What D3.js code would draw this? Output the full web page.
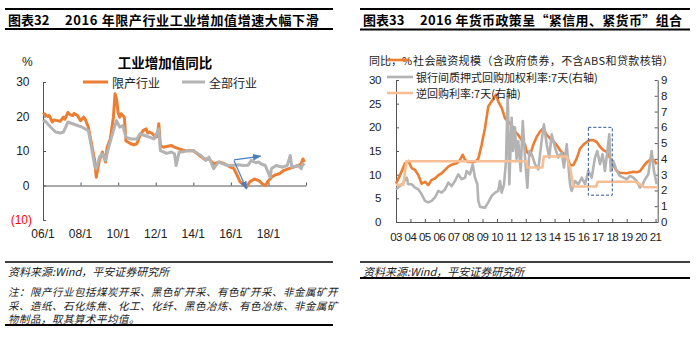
<!DOCTYPE html>
<html><head><meta charset="utf-8">
<script src="https://cdn.jsdelivr.net/npm/d3@7"></script>
<style>
body{margin:0;background:#fff;}
svg{display:block;}
</style></head><body>
<svg id="c" width="700" height="337"></svg>
<script>
// ---------- Chart 1 data (工业增加值同比, %) ----------
const ltdDates = ["2006-01","2006-02","2006-04","2006-05","2006-07","2006-08","2006-10","2006-12","2007-02","2007-03","2007-05","2007-06","2007-08","2007-09","2007-11","2008-01","2008-03","2008-04","2008-06","2008-08","2008-10","2008-11","2009-01","2009-03","2009-05","2009-06","2009-08","2009-10","2009-11","2009-12","2010-01","2010-02","2010-03","2010-05","2010-06","2010-08","2010-09","2010-11","2011-01","2011-03","2011-05","2011-07","2011-08","2011-09","2011-11","2012-01","2012-02","2012-03","2012-04","2012-06","2012-08","2012-11","2013-01","2013-04","2013-08","2014-01","2014-05","2014-08","2014-11","2015-02","2015-06","2015-09","2015-12","2016-03","2016-05","2016-07","2016-10","2016-11","2017-01","2017-04","2017-07","2017-09","2017-11","2018-01","2018-03","2018-05","2018-08","2018-11","2019-02","2019-05","2019-08","2019-10","2019-11","2019-12"];
const ltdValues = [20.5,20.8,20.0,20.3,18.4,19.0,18.8,18.6,19.8,19.2,21.2,20.6,20.3,20.9,20.3,18.8,19.8,19.2,16.9,12.1,7.3,2.4,7.3,9.7,6.8,11.1,13.5,19.8,26.6,25.1,21.0,19.8,20.8,19.8,13.0,12.4,12.1,11.8,12.1,14.5,15.9,16.4,15.2,15.5,15.0,14.0,14.3,17.9,11.6,11.1,11.3,11.6,11.1,10.6,10.1,10.1,8.7,7.7,7.7,6.3,6.8,6.3,5.5,4.9,3.0,1.0,0.0,-0.5,1.0,1.9,1.4,0.5,0.0,1.4,2.4,3.0,3.4,4.4,4.9,5.3,5.8,6.3,7.7,6.8];
const allDates = ["2006-01","2006-02","2006-04","2006-06","2006-09","2006-12","2007-02","2007-05","2007-08","2007-11","2008-02","2008-06","2008-08","2008-10","2008-11","2009-01","2009-03","2009-05","2009-07","2009-10","2009-12","2010-02","2010-04","2010-06","2010-09","2011-01","2011-03","2011-06","2011-09","2011-12","2012-03","2012-04","2012-08","2012-11","2013-01","2013-02","2013-04","2013-06","2013-09","2014-01","2014-04","2014-06","2014-09","2014-11","2015-02","2015-05","2015-08","2015-11","2016-03","2016-06","2016-09","2016-12","2017-02","2017-05","2017-07","2017-08","2017-11","2018-02","2018-03","2018-06","2018-10","2019-01","2019-03","2019-04","2019-08","2019-10","2019-11","2019-12"];
const allValues = [18.5,18.8,17.9,16.9,15.5,15.2,15.5,18.4,17.9,17.4,16.9,15.9,11.1,5.8,4.8,8.2,9.2,7.3,11.1,15.9,18.8,16.9,17.4,14.0,13.5,13.5,15.0,14.5,14.0,13.5,16.4,10.1,9.3,9.7,9.2,5.8,9.7,9.7,10.1,10.1,9.2,8.7,7.3,8.2,4.9,6.8,6.3,5.8,5.9,6.0,5.8,5.9,7.3,6.6,6.8,6.3,5.8,2.4,4.9,5.8,5.3,5.8,8.7,5.3,5.8,4.9,6.3,5.8];
const c1TickDates = ["2006-01","2008-01","2010-01","2012-01","2014-01","2016-01","2018-01","2020-01"];
const c1TickLabels = ["06/1","08/1","10/1","12/1","14/1","16/1","18/1",""];
const c1YTicks = [30,20,10,0,-10];
const c1YLabels = ["30","20","10","0","(10)"];
// annotation arrows [date, value]
const arrowFrom = [["2016-03",7.45],["2016-03",7.25]];
const arrowTo = [["2017-08",8.5],["2016-11",-1.0]];

// ---------- Chart 2 data ----------
const sfYears = [2003.00,2003.28,2003.62,2003.85,2004.09,2004.32,2004.55,2004.78,2005.01,2005.24,2005.47,2005.70,2005.94,2006.17,2006.40,2006.63,2006.86,2007.21,2007.44,2007.62,2007.79,2008.01,2008.25,2008.48,2008.71,2008.94,2009.17,2009.40,2009.64,2009.80,2009.93,2010.09,2010.33,2010.56,2010.79,2011.02,2011.25,2011.48,2011.72,2011.95,2012.06,2012.29,2012.52,2012.76,2012.99,2013.22,2013.45,2013.68,2013.91,2014.14,2014.37,2014.60,2014.84,2015.07,2015.30,2015.53,2015.76,2015.99,2016.23,2016.45,2016.68,2016.92,2017.15,2017.38,2017.61,2017.85,2018.07,2018.31,2018.53,2019.00,2019.46,2019.69,2019.92,2020.20,2020.39,2020.60,2020.73,2020.96,2021.08];
const sfValues = [8.1,9.9,12.4,12.9,11.4,11.0,9.9,8.1,8.5,7.8,8.9,9.2,9.9,10.3,11.0,11.7,12.1,12.4,13.1,14.2,13.1,12.7,12.7,12.7,13.4,16.3,19.8,24.4,25.5,26.2,26.9,25.5,24.1,21.9,21.2,20.5,19.1,18.4,17.3,16.3,14.9,14.1,16.3,18.0,19.1,19.8,18.4,17.7,17.0,16.3,15.2,14.5,14.1,12.0,12.0,13.4,15.5,16.3,16.9,17.3,17.3,16.9,15.9,15.2,14.8,13.5,12.0,10.8,10.4,10.3,10.6,10.5,10.7,11.9,12.6,13.1,13.5,12.8,12.2];
const repoYears = [2003.00,2003.28,2003.51,2003.74,2003.85,2004.09,2004.32,2004.55,2004.78,2005.01,2005.24,2005.47,2005.70,2005.94,2006.17,2006.40,2006.63,2006.86,2007.09,2007.32,2007.56,2007.79,2007.90,2008.13,2008.32,2008.48,2008.64,2008.71,2008.83,2009.17,2009.40,2009.64,2009.87,2010.09,2010.21,2010.33,2010.49,2010.63,2010.75,2010.86,2011.02,2011.12,2011.25,2011.36,2011.48,2011.65,2011.79,2011.95,2012.11,2012.25,2012.41,2012.64,2012.87,2013.10,2013.26,2013.45,2013.63,2013.80,2014.03,2014.26,2014.49,2014.65,2014.84,2014.95,2015.07,2015.18,2015.41,2015.64,2015.88,2016.11,2016.34,2016.57,2016.80,2016.96,2017.15,2017.33,2017.49,2017.66,2017.79,2017.89,2018.07,2018.31,2018.53,2018.77,2019.00,2019.23,2019.46,2019.69,2019.92,2020.11,2020.27,2020.50,2020.73,2020.89,2021.08];
const repoValues = [2.07,2.28,2.50,2.81,2.39,2.39,2.18,2.07,1.76,1.34,1.24,1.34,1.55,1.97,1.86,2.07,2.50,2.28,2.60,3.02,2.71,2.81,3.23,3.02,3.65,2.81,2.39,1.34,0.96,0.90,1.24,1.66,1.86,1.97,2.60,1.86,2.39,3.86,8.2,2.39,6.6,4.5,6.0,4.0,5.13,3.23,6.40,4.08,2.18,4.50,4.30,3.66,3.34,5.14,6.19,4.93,4.08,5.56,4.71,4.08,4.40,3.45,4.93,3.66,2.39,1.97,2.60,2.39,2.81,2.39,3.23,2.81,4.08,4.50,3.66,4.30,3.23,4.50,5.56,3.23,3.87,3.23,2.92,2.81,2.71,2.92,2.81,2.60,2.18,2.39,2.71,3.02,4.50,3.23,2.39];
const rrYears = [2003.00,2003.50,2003.72,2012.04,2012.10,2013.15,2013.25,2014.85,2014.95,2015.10,2015.20,2015.30,2016.88,2016.98,2019.60,2019.90,2020.25,2021.15];
const rrValues = [2.35,2.35,3.85,3.85,3.45,3.45,4.15,4.15,3.75,3.35,2.75,2.25,2.25,2.55,2.55,2.4,2.2,2.2];
const c2XTicks = d3.range(2003, 2022);
const c2XLabels = ["03","04","05","06","07","08","09","10","11","12","13","14","15","16","17","18","19","20","21"];
const c2LeftTicks = [0,5,10,15,20,25,30];
const c2RightTicks = [0,1,2,3,4,5,6,7,8,9];
// dashed highlight box: [startYear, endYear], [top, bottom] on right axis
const boxYears = [2016.34, 2018.0];
const boxRates = [6.0, 1.7];

// ---------- styles ----------
const CJK = "'Noto Sans CJK SC','Noto Sans',sans-serif";
const NUM = "'Liberation Sans',Arial,sans-serif";
const ORANGE = "#ED7D31", GRAY = "#B3B3B3", LIGHT = "#F8BE93", AXIS = "#555";

const svg = d3.select("#c");
const parse = d3.timeParse("%Y-%m");

function hline(x1,x2,y,w){svg.append("line").attr("x1",x1).attr("x2",x2).attr("y1",y).attr("y2",y).attr("stroke","#000").attr("stroke-width",w);}
function txt(x,y,s,size,opts={}){
  const t = svg.append("text").attr("x",x).attr("y",y).text(s)
    .attr("font-family",opts.family||CJK).attr("font-size",size)
    .attr("fill",opts.fill||"#222").attr("dominant-baseline","central")
    .attr("text-anchor",opts.anchor||"start");
  if(opts.bold) t.attr("font-weight","bold");
  if(opts.italic) t.attr("font-style","italic");
  if(opts.ls!==undefined) t.attr("letter-spacing",opts.ls);
  return t;
}

// frame lines
hline(5,333,9,2); hline(5,333,29,2);
hline(360,690,9,2); hline(360,690,29.5,2);
hline(5,333,262,1.5); hline(5,333,325,2);
hline(360,690,262,1.5); hline(360,690,278,2);

// titles
txt(8,19.5,"图表32",13,{bold:true,fill:"#000"});
txt(65,19.5,"2016 年限产行业工业增加值增速大幅下滑",13,{bold:true,fill:"#000",ls:0.6});
txt(363,19.5,"图表33",13,{bold:true,fill:"#000"});
txt(420,19.5,"2016 年货币政策呈“紧信用、紧货币”组合",13,{bold:true,fill:"#000",ls:0.35});

// footnotes
txt(8,270.5,"资料来源:Wind，平安证券研究所",11,{italic:true,fill:"#222"});
txt(8,291.5,"注：限产行业包括煤炭开采、黑色矿开采、有色矿开采、非金属矿开",10.5,{italic:true,fill:"#222",ls:0.5});
txt(8,305,"采、造纸、石化炼焦、化工、化纤、黑色冶炼、有色冶炼、非金属矿",10.5,{italic:true,fill:"#222",ls:0.5});
txt(8,318.5,"物制品，取其算术平均值。",10.5,{italic:true,fill:"#222",ls:0.5});
txt(363,270.5,"资料来源:Wind，平安证券研究所",11,{italic:true,fill:"#222"});

// ---------- Chart 1 ----------
const x1 = d3.scaleTime().domain([parse("2006-01"), parse("2020-01")]).range([43,306]);
const y1 = d3.scaleLinear().domain([-10,30]).range([220,82]);

txt(22,62,"%",12,{family:NUM});
txt(165,62,"工业增加值同比",13.5,{bold:true,fill:"#000",anchor:"middle"});

// y axis
const g1y = svg.append("g").attr("transform","translate(43,0)")
  .call(d3.axisRight(y1).tickValues(c1YTicks).tickSize(3).tickSizeOuter(0).tickFormat(""));
g1y.selectAll("path,line").attr("stroke",AXIS);
c1YTicks.forEach((v,i)=>{
  txt(v<0?32:29.5, y1(v), c1YLabels[i], 12, {family:NUM, anchor:"end", fill: v<0?"#FF0000":"#222"});
});
// x axis at zero
const g1x = svg.append("g").attr("transform",`translate(0,${y1(0)})`)
  .call(d3.axisBottom(x1).tickValues(c1TickDates.map(parse)).tickSize(-3).tickSizeOuter(0).tickFormat(""));
g1x.selectAll("path,line").attr("stroke",AXIS);
c1TickDates.forEach((d,i)=>{ txt(x1(parse(d)),234,c1TickLabels[i],12,{family:NUM,anchor:"middle"}); });

const line1 = d3.line().x(d=>x1(d[0])).y(d=>y1(d[1]));
svg.append("path").datum(ltdDates.map((d,i)=>[parse(d),ltdValues[i]]))
  .attr("d",line1).attr("fill","none").attr("stroke",ORANGE).attr("stroke-width",3).attr("stroke-linejoin","round");
svg.append("path").datum(allDates.map((d,i)=>[parse(d),allValues[i]]))
  .attr("d",line1).attr("fill","none").attr("stroke",GRAY).attr("stroke-width",3).attr("stroke-linejoin","round");

// legend chart 1
svg.append("line").attr("x1",83).attr("x2",108).attr("y1",82).attr("y2",82).attr("stroke",ORANGE).attr("stroke-width",3);
txt(112,82,"限产行业",12);
svg.append("line").attr("x1",182).attr("x2",205).attr("y1",82).attr("y2",82).attr("stroke",GRAY).attr("stroke-width",3);
txt(209,82,"全部行业",12);

// arrows
const defs = svg.append("defs");
defs.append("marker").attr("id","ah").attr("viewBox","0 0 10 10").attr("refX",9).attr("refY",5)
  .attr("markerWidth",7).attr("markerHeight",7).attr("orient","auto")
  .append("path").attr("d","M0,1 L10,5 L0,9 Z").attr("fill","#4A7EC0");
arrowFrom.forEach((f,i)=>{
  const t = arrowTo[i];
  svg.append("line").attr("x1",x1(parse(f[0]))).attr("y1",y1(f[1])).attr("x2",x1(parse(t[0]))).attr("y2",y1(t[1]))
    .attr("stroke","#4A7EC0").attr("stroke-width",1.2).attr("marker-end","url(#ah)");
});

// ---------- Chart 2 ----------
const x2 = d3.scaleLinear().domain([2003, 2021.15]).range([396, 657.7]);
const yL = d3.scaleLinear().domain([0,30]).range([222,80]);
const yR = d3.scaleLinear().domain([0,9]).range([222,80]);

const g2l = svg.append("g").attr("transform","translate(396,0)")
  .call(d3.axisRight(yL).tickValues(c2LeftTicks).tickSize(3).tickSizeOuter(0).tickFormat(""));
g2l.selectAll("path,line").attr("stroke",AXIS);
c2LeftTicks.forEach(v=>txt(381,yL(v),String(v),11.5,{family:NUM,anchor:"end",ls:-0.4}));
const g2r = svg.append("g").attr("transform","translate(657.7,0)")
  .call(d3.axisLeft(yR).tickValues(c2RightTicks).tickSize(3).tickSizeOuter(0).tickFormat(""));
g2r.selectAll("path,line").attr("stroke",AXIS);
c2RightTicks.forEach(v=>txt(661,yR(v),String(v),11.5,{family:NUM,ls:-0.4}));
const g2x = svg.append("g").attr("transform","translate(0,222)")
  .call(d3.axisBottom(x2).tickValues(c2XTicks).tickSize(-3).tickSizeOuter(0).tickFormat(""));
g2x.selectAll("path,line").attr("stroke",AXIS);
c2XTicks.forEach((t,i)=>txt(x2(t),237,c2XLabels[i],11.5,{family:NUM,anchor:"middle",ls:-0.6}));

const lineL = d3.line().x(d=>x2(d[0])).y(d=>yL(d[1]));
const lineR = d3.line().x(d=>x2(d[0])).y(d=>yR(d[1]));
svg.append("path").datum(sfYears.map((t,i)=>[t,sfValues[i]])).attr("d",lineL)
  .attr("fill","none").attr("stroke",ORANGE).attr("stroke-width",2.6).attr("stroke-linejoin","round");
svg.append("path").datum(repoYears.map((t,i)=>[t,repoValues[i]])).attr("d",lineR)
  .attr("fill","none").attr("stroke",GRAY).attr("stroke-width",2.6).attr("stroke-linejoin","round");
svg.append("path").datum(rrYears.map((t,i)=>[t,rrValues[i]])).attr("d",lineR)
  .attr("fill","none").attr("stroke",LIGHT).attr("stroke-width",2.6).attr("stroke-linejoin","round");

// dashed box
svg.append("rect").attr("x",x2(boxYears[0])).attr("y",yR(boxRates[0]))
  .attr("width",x2(boxYears[1])-x2(boxYears[0])).attr("height",yR(boxRates[1])-yR(boxRates[0]))
  .attr("fill","none").attr("stroke","#2F5597").attr("stroke-width",1).attr("stroke-dasharray","3,2");

// legend chart 2
txt(369,60,"同比，%",11);
svg.append("line").attr("x1",387).attr("x2",410).attr("y1",60).attr("y2",60).attr("stroke",ORANGE).attr("stroke-width",2.6);
txt(413,60,"社会融资规模（含政府债券，不含ABS和贷款核销）",11,{ls:0.4});
svg.append("line").attr("x1",387).attr("x2",413).attr("y1",77).attr("y2",77).attr("stroke",GRAY).attr("stroke-width",2.6);
txt(416,77,"银行间质押式回购加权利率:7天(右轴)",11);
svg.append("line").attr("x1",387).attr("x2",413).attr("y1",93).attr("y2",93).attr("stroke",LIGHT).attr("stroke-width",2.6);
txt(416,93,"逆回购利率:7天(右轴)",11);
</script></body></html>
